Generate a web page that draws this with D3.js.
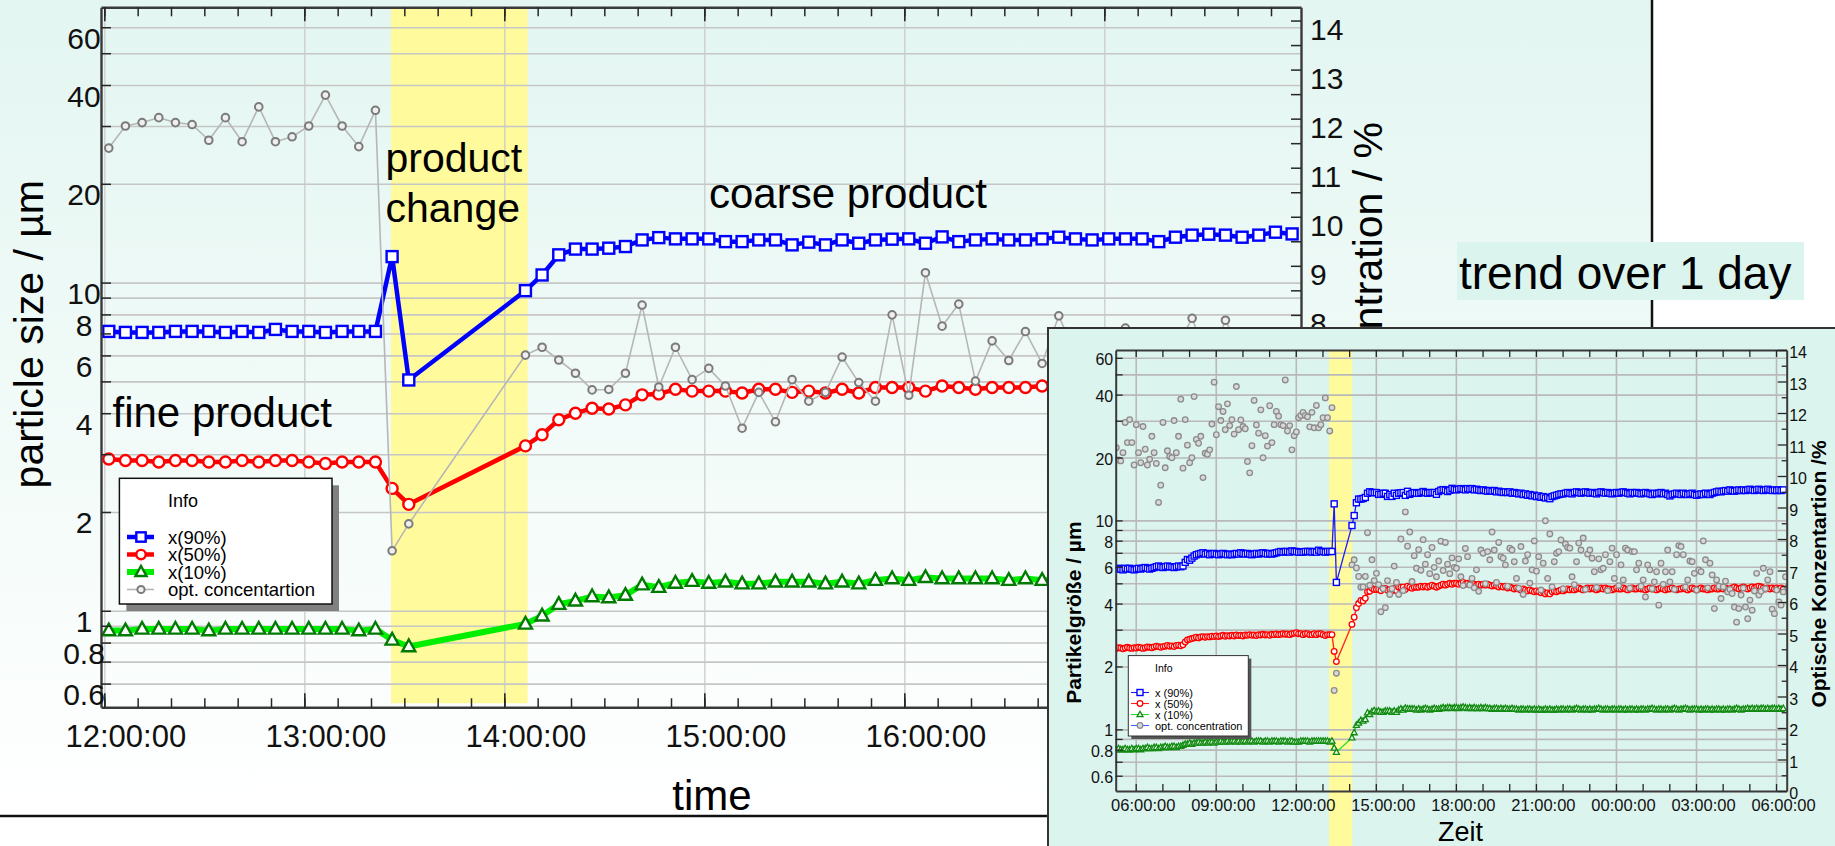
<!DOCTYPE html>
<html>
<head>
<meta charset="utf-8">
<script src="https://cdn.jsdelivr.net/npm/d3@7"></script>
<style>
  html, body { margin: 0; padding: 0; background: #fff; }
  svg { display: block; }
</style>
</head>
<body>
<svg id="chart" width="1835" height="846"></svg>
<script>
// ---------------- sampling / time frame ----------------
const sampleStepMin = 5;                          // instrument logs every 5 minutes
const mainStart = "2000-01-01 12:01:20";          // first sample of the 6 h trend
const mainTimeDomain = ["2000-01-01 11:59:00", "2000-01-01 17:59:00"];
const insetTimeDomain = ["2000-01-01 05:15:00", "2000-01-02 06:24:00"];
const changeWindow = ["2000-01-01 13:26:00", "2000-01-01 14:07:00"];
const changeWindowDay = ["2000-01-01 13:15:00", "2000-01-01 14:07:00"];

// ---------------- 6 h trend (12:01:20 .. 17:56:20, 5 min) ----------------
const mainX90 = [7.1, 7.05, 7.05, 7.05, 7.1, 7.1, 7.1, 7.05, 7.1, 7.05, 7.2, 7.1, 7.1, 7.05, 7.1, 7.1, 7.1,
  12.0, 5.05, null, null, null, null, null, null,
  9.45, 10.55, 12.15, 12.65, 12.65,
  12.73, 12.88, 13.49, 13.71, 13.59, 13.59, 13.59, 13.33, 13.33, 13.49, 13.49, 13.03, 13.28, 13.03,
  13.49, 13.18, 13.49, 13.56, 13.59, 13.18, 13.78, 13.33, 13.49, 13.59, 13.49, 13.49, 13.59, 13.75,
  13.59, 13.49, 13.59, 13.59, 13.59, 13.33, 13.75, 13.95, 14.04, 13.95, 13.75, 13.95, 14.24, 14.07];
const mainX50 = [2.9, 2.87, 2.87, 2.84, 2.87, 2.87, 2.84, 2.84, 2.87, 2.84, 2.87, 2.87, 2.84, 2.81, 2.84, 2.84, 2.84,
  2.36, 2.11, null, null, null, null, null, null,
  3.18, 3.44, 3.82, 4.0, 4.14,
  4.12, 4.24, 4.55, 4.58, 4.73, 4.67, 4.67, 4.67, 4.61, 4.73, 4.73, 4.63, 4.67, 4.61,
  4.73, 4.61, 4.79, 4.79, 4.79, 4.67, 4.84, 4.79, 4.73, 4.79, 4.79, 4.79, 4.84,
  4.8, 4.84, 4.79, 4.84, 4.9, 4.84, 4.79, 4.84, 4.9, 4.95, 4.9, 4.95, 5.0, 4.95, 5.0];
const mainX10 = [0.87, 0.87, 0.88, 0.88, 0.88, 0.88, 0.87, 0.88, 0.88, 0.88, 0.88, 0.88, 0.88, 0.88, 0.88, 0.87, 0.88,
  0.815, 0.778, null, null, null, null, null, null,
  0.912, 0.965, 1.047, 1.072, 1.105,
  1.097, 1.116, 1.201, 1.18, 1.215, 1.231, 1.215, 1.225, 1.209, 1.209, 1.225, 1.225, 1.225, 1.209,
  1.225, 1.209, 1.239, 1.254, 1.239, 1.264, 1.254, 1.254, 1.254, 1.254, 1.239, 1.254, 1.239,
  1.25, 1.26, 1.25, 1.24, 1.25, 1.26, 1.25, 1.25, 1.26, 1.27, 1.26, 1.27, 1.27, 1.26, 1.27];
const mainConc = [11.40, 11.85, 11.92, 12.02, 11.92, 11.88, 11.56, 12.02, 11.53, 12.24, 11.53, 11.63, 11.85, 12.48, 11.85, 11.43, 12.17,
  3.19, 3.74, null, null, null, null, null, null,
  7.18, 7.34, 7.08, 6.81, 6.47,
  6.48, 6.81, 8.20, 6.53, 7.34, 6.68, 6.91, 6.55, 5.69, 6.42, 5.82, 6.68, 6.24, 6.42,
  7.14, 6.62, 6.24, 8.00, 6.36, 8.86, 7.77, 8.22, 6.65, 7.47, 7.07, 7.66, 7.01, 7.98,
  7.2, 7.5, 6.9, 7.73, 7.1, 6.8, 7.3, 7.93, 7.0, 7.89, 7.2, 6.9, 7.4, 7.1];

// ---------------- one-day trend: samples before 12:01 and after 17:56 ----------------
const dayX90Before = [5.85, 5.9, 5.85, 5.8, 5.9, 5.85, 5.9, 5.85, 5.8, 5.85, 5.9, 5.85, 5.9, 5.95, 5.9, 5.85,
  5.9, 5.95, 6.0, 6.05, 6.0, 5.95, 6.0, 6.05, 6.0, 6.0, 5.95, 6.0, 6.05, 6.0, 6.05,
  6.3, 6.5, 6.45, 6.6, 6.75,
  6.85, 6.9, 6.95, 7.0, 6.9, 6.95, 6.85, 6.9, 6.95,
  6.9, 6.85, 6.9, 6.95, 6.9, 6.85, 6.9, 6.85, 6.9, 6.95, 6.9, 7.0, 6.95, 6.9, 6.95, 6.9, 6.85, 6.9,
  6.95, 6.9, 6.95, 7.0, 6.95, 6.9, 6.95, 6.9, 6.95, 7.0, 7.05, 7.1, 7.05, 7.1, 7.1, 7.05, 7.15, 7.1];
const dayX50Before = [2.44, 2.46, 2.45, 2.43, 2.45, 2.47, 2.45, 2.44, 2.46, 2.45, 2.47, 2.46, 2.44, 2.46, 2.48, 2.47,
  2.46, 2.48, 2.5, 2.49, 2.47, 2.49, 2.5, 2.52, 2.5, 2.51, 2.49, 2.52, 2.53, 2.51, 2.54,
  2.62, 2.68, 2.7, 2.72, 2.74,
  2.76, 2.74, 2.77, 2.78, 2.76, 2.78, 2.77, 2.79, 2.78,
  2.8, 2.78, 2.8, 2.82, 2.79, 2.81, 2.8, 2.82, 2.8, 2.83, 2.81, 2.82, 2.8, 2.83, 2.82, 2.84, 2.82, 2.83,
  2.81, 2.84, 2.83, 2.85, 2.83, 2.84, 2.82, 2.85, 2.84, 2.86, 2.84, 2.85, 2.87, 2.85, 2.86, 2.84, 2.87, 2.88];
const dayX10Before = [0.80, 0.81, 0.80, 0.80, 0.81, 0.80, 0.80, 0.81, 0.80, 0.81, 0.81, 0.80, 0.81, 0.81, 0.82, 0.81,
  0.81, 0.82, 0.82, 0.81, 0.82, 0.82, 0.83, 0.82, 0.82, 0.83, 0.83, 0.82, 0.83, 0.83, 0.84,
  0.85, 0.85, 0.86, 0.85, 0.86, 0.86, 0.87, 0.86, 0.86, 0.87, 0.86, 0.87, 0.87, 0.86,
  0.87, 0.87, 0.88, 0.87, 0.87, 0.88, 0.87, 0.88, 0.88, 0.87, 0.88, 0.87, 0.88, 0.88, 0.87, 0.88, 0.88, 0.87,
  0.88, 0.88, 0.88, 0.87, 0.88, 0.88, 0.87, 0.88, 0.88, 0.88, 0.87, 0.88, 0.88, 0.88, 0.87, 0.88, 0.88, 0.87];
const dayConcBefore = [10.9, 10.51, 10.48, 10.74, 11.70, 11.06, 11.79, 11.06, 10.35, 11.63, 10.74, 10.42, 11.57, 10.85,
  10.35, 10.53, 11.26, 10.74, 10.40, 9.16, 9.71, 11.70, 10.26, 10.80, 10.62, 10.58, 11.76, 10.74, 11.26,
  12.44, 10.25, 11.79, 10.98, 10.42, 10.58, 12.52, 11.16, 11.04, 11.26, 9.95, 10.72, 10.69, 10.83, 11.65,
  12.98, 11.31, 12.2, 11.76, 12.05, 11.47, 12.29, 11.6, 11.79, 11.33, 12.84, 11.47, 11.78, 11.57, 11.5,
  10.46, 10.10, 10.96, 12.4, 11.62, 11.36, 12.1, 10.58, 11.28, 10.95, 12.23, 11.06, 11.63, 12.05, 11.9,
  11.63, 11.6, 13.05, 11.43, 11.6, 10.83, 11.28];

const dayX90After = [14.0, 14.1, 14.2, 14.1, 14.0, 14.2, 14.1, 14.2, 14.0, 14.1, 14.0, 13.9,
  14.0, 13.9, 13.8, 13.9, 13.8, 13.9, 13.7, 13.8, 13.7, 13.6, 13.7, 13.6,
  13.7, 13.5, 13.6, 13.5, 13.4, 13.5, 13.3, 13.4, 13.2, 13.3, 13.1, 13.2,
  13.0, 13.1, 12.9, 13.0, 12.8, 12.9, 12.7, 13.0, 13.1, 13.2, 13.3, 13.4,
  13.4, 13.5, 13.6, 13.5, 13.4, 13.6, 13.7, 13.6, 13.5, 13.6, 13.7, 13.6,
  13.5, 13.6, 13.5, 13.4, 13.6, 13.7, 13.6, 13.5, 13.6, 13.5, 13.4, 13.5,
  13.6, 13.5, 13.6, 13.7, 13.6, 13.5, 13.4, 13.6, 13.5, 13.6, 13.5, 13.4,
  13.5, 13.6, 13.5, 13.4, 13.3, 13.5, 13.4, 13.5, 13.6, 13.4, 13.5, 13.3,
  13.1, 13.3, 13.4, 13.5, 13.4, 13.3, 13.5, 13.4, 13.3, 13.4, 13.5, 13.3,
  13.2, 13.3, 13.4, 13.3, 13.5, 13.4, 13.3, 13.5, 13.6, 13.7, 13.8, 13.7,
  13.8, 13.9, 13.8, 14.0, 13.9, 13.8, 13.9, 14.0, 13.9, 14.0, 13.9, 14.0,
  14.1, 14.0, 13.9, 14.0, 14.1, 14.0, 13.9, 14.0, 14.1, 14.0, 13.9, 14.0,
  13.9, 14.0, 13.9, 14.0];
const dayX50After = [5.0, 4.95, 5.0, 5.05, 4.95, 5.0, 4.95, 5.0, 4.95, 4.9, 4.95, 4.9,
  4.95, 4.9, 4.95, 4.9, 4.85, 4.9, 4.85, 4.8, 4.85, 4.8, 4.85, 4.75,
  4.8, 4.75, 4.7, 4.75, 4.7, 4.65, 4.7, 4.65, 4.6, 4.65, 4.6, 4.55,
  4.6, 4.55, 4.5, 4.55, 4.45, 4.5, 4.45, 4.55, 4.6, 4.55, 4.6, 4.65,
  4.6, 4.65, 4.7, 4.65, 4.7, 4.65, 4.7, 4.75, 4.7, 4.65, 4.7, 4.75,
  4.7, 4.75, 4.7, 4.65, 4.7, 4.75, 4.7, 4.75, 4.7, 4.7, 4.65, 4.7,
  4.75, 4.7, 4.7, 4.75, 4.7, 4.65, 4.7, 4.75, 4.7, 4.7, 4.75, 4.7,
  4.7, 4.65, 4.7, 4.75, 4.7, 4.7, 4.65, 4.7, 4.75, 4.7, 4.65, 4.7,
  4.7, 4.75, 4.7, 4.65, 4.7, 4.7, 4.75, 4.7, 4.65, 4.7, 4.75, 4.7,
  4.65, 4.7, 4.75, 4.7, 4.7, 4.65, 4.7, 4.7, 4.75, 4.7, 4.7, 4.75,
  4.7, 4.75, 4.7, 4.7, 4.75, 4.8, 4.75, 4.7, 4.75, 4.8, 4.75, 4.7,
  4.75, 4.8, 4.75, 4.8, 4.85, 4.8, 4.75, 4.7, 4.75, 4.7, 4.75, 4.7,
  4.75, 4.7, 4.75, 4.7];
const dayX10After = [1.27, 1.26, 1.27, 1.28, 1.27, 1.26, 1.27, 1.26, 1.27, 1.26, 1.26, 1.27,
  1.26, 1.27, 1.26, 1.26, 1.25, 1.26, 1.26, 1.25, 1.26, 1.25, 1.26, 1.25,
  1.25, 1.26, 1.25, 1.25, 1.24, 1.25, 1.25, 1.24, 1.25, 1.25, 1.24, 1.25,
  1.24, 1.25, 1.24, 1.24, 1.25, 1.24, 1.25, 1.24, 1.24, 1.25, 1.24, 1.25,
  1.25, 1.24, 1.25, 1.25, 1.24, 1.25, 1.26, 1.25, 1.24, 1.25, 1.25, 1.24,
  1.25, 1.24, 1.25, 1.25, 1.26, 1.25, 1.24, 1.25, 1.25, 1.24, 1.25, 1.25,
  1.24, 1.25, 1.25, 1.24, 1.25, 1.24, 1.25, 1.25, 1.24, 1.25, 1.24, 1.25,
  1.25, 1.24, 1.25, 1.25, 1.26, 1.25, 1.24, 1.25, 1.25, 1.24, 1.25, 1.25,
  1.24, 1.25, 1.26, 1.25, 1.24, 1.25, 1.25, 1.26, 1.25, 1.24, 1.25, 1.25,
  1.25, 1.24, 1.25, 1.24, 1.25, 1.25, 1.24, 1.25, 1.24, 1.25, 1.25, 1.24,
  1.25, 1.24, 1.25, 1.25, 1.24, 1.25, 1.26, 1.25, 1.24, 1.25, 1.25, 1.26,
  1.25, 1.26, 1.25, 1.26, 1.25, 1.26, 1.26, 1.25, 1.26, 1.25, 1.26, 1.26,
  1.25, 1.26, 1.25, 1.26];
const dayConcAfter = [7.07, 7.37, 6.80, 6.52, 7.70, 7.44, 6.54, 6.75, 6.45, 7.02, 6.34, 7.65, 7.55, 6.58, 7.60,
  7.34, 8.22, 7.65, 6.62, 7.89, 7.44, 7.39, 7.18, 6.5, 7.71, 7.65, 7.28, 6.75, 6.44, 7.76, 6.24, 7.30,
  7.50, 6.6, 7.02, 7.94, 6.98, 7.44, 6.38, 7.23, 8.58, 6.75, 8.16, 6.48, 7.28, 7.55, 7.60, 7.97, 6.42,
  7.84, 7.73, 7.71, 6.80, 6.55, 7.28, 7.87, 7.65, 8.03, 6.4, 7.52, 7.65, 7.39, 6.96, 6.46, 7.37, 7.02,
  7.07, 7.50, 6.36, 7.28, 7.71, 6.75, 7.50, 6.52, 7.18, 6.70, 7.71, 7.65, 6.44, 7.60, 7.60, 7.02, 7.23,
  6.5, 6.70, 6.16, 7.18, 7.02, 6.42, 6.64, 6.96, 5.90, 7.23, 6.56, 6.96, 7.65, 6.64, 6.96, 6.4, 7.50,
  7.79, 7.76, 7.50, 6.48, 6.70, 7.30, 7.28, 6.91, 6.38, 7.02, 6.96, 7.94, 7.34, 6.45, 7.23, 6.86, 5.79,
  6.70, 6.5, 6.11, 6.48, 6.66, 6.32, 6.4, 6.27, 5.84, 5.36, 5.79, 6.22, 6.44, 5.84, 5.47, 6.06, 5.74,
  6.35, 6.91, 6.22, 6.34, 7.07, 6.42, 6.70, 6.96, 5.77, 5.63, 6.38, 6.00, 5.90, 6.32, 6.80, 6.46, 7.28,
  6.54, 6.59, 5.79, 6.11];

// ---------------- axis ticks / labels ----------------
const sizeDomainMain = [0.508, 69];
const sizeDomainInset = [0.507, 65.4];
const concDomainMain = [0, 14.27];
const concDomainInset = [0, 14];
const sizeGridValues = [0.6, 0.7, 0.8, 0.9, 1, 2, 3, 4, 5, 6, 7, 8, 9, 10, 20, 30, 40, 50, 60];
const sizeTickLabels = [0.6, 0.8, 1, 2, 4, 6, 8, 10, 20, 40, 60];
const concTickLabels = [0, 1, 2, 3, 4, 5, 6, 7, 8, 9, 10, 11, 12, 13, 14];
const mainHourTicks = ["2000-01-01 12:00:00", "2000-01-01 13:00:00", "2000-01-01 14:00:00",
  "2000-01-01 15:00:00", "2000-01-01 16:00:00", "2000-01-01 17:00:00"];
const insetHourTicks = ["2000-01-01 06:00:00", "2000-01-01 09:00:00", "2000-01-01 12:00:00",
  "2000-01-01 15:00:00", "2000-01-01 18:00:00", "2000-01-01 21:00:00", "2000-01-02 00:00:00",
  "2000-01-02 03:00:00", "2000-01-02 06:00:00"];

// ---------------- helpers ----------------
const FONT = "'Liberation Sans', Arial, Helvetica, sans-serif";
const parse = d3.timeParse("%Y-%m-%d %H:%M:%S");
const fmt = d3.timeFormat("%H:%M:%S");
const t0 = parse(mainStart);
const mainTimes = mainX90.map((_, i) => d3.timeMinute.offset(t0, i * sampleStepMin));
const beforeTimes = n => d3.range(n).map(i => d3.timeMinute.offset(t0, -(n - i) * sampleStepMin));
const afterStart = d3.timeMinute.offset(t0, mainX90.length * sampleStepMin);
const afterTimes = n => d3.range(n).map(i => d3.timeMinute.offset(afterStart, i * sampleStepMin));

function toPoints(times, values) {
  return values.map((v, i) => ({ t: times[i], v })).filter(d => d.v != null);
}
function dayPoints(before, main, after) {
  return toPoints(beforeTimes(before.length), before)
    .concat(toPoints(mainTimes, main))
    .concat(toPoints(afterTimes(after.length), after));
}
function triPath(w) {
  const h = w * 0.9;
  return `M0,${-h * 0.6}L${w / 2},${h * 0.4}L${-w / 2},${h * 0.4}Z`;
}
function drawMarkers(g, pts, xs, ys, st) {
  const m = g.append("g");
  if (st.shape === "square") {
    m.selectAll("rect").data(pts).join("rect")
      .attr("x", d => xs(d.t) - st.size / 2).attr("y", d => ys(d.v) - st.size / 2)
      .attr("width", st.size).attr("height", st.size);
  } else if (st.shape === "circle") {
    m.selectAll("circle").data(pts).join("circle")
      .attr("cx", d => xs(d.t)).attr("cy", d => ys(d.v)).attr("r", st.size / 2);
  } else {
    m.selectAll("path").data(pts).join("path")
      .attr("d", triPath(st.size))
      .attr("transform", d => `translate(${xs(d.t)},${ys(d.v)})`);
  }
  m.attr("fill", st.fill).attr("stroke", st.stroke).attr("stroke-width", st.sw);
}
function drawLine(g, pts, xs, ys, color, width) {
  g.append("path").datum(pts)
    .attr("d", d3.line().x(d => xs(d.t)).y(d => ys(d.v)))
    .attr("fill", "none").attr("stroke", color).attr("stroke-width", width)
    .attr("stroke-linejoin", "round");
}
function styleAxis(g, fs, domainW, tickW) {
  g.attr("font-family", FONT).attr("font-size", fs);
  g.select(".domain").attr("stroke", "#3a3a3a").attr("stroke-width", domainW);
  g.selectAll(".tick line").attr("stroke", "#262626").attr("stroke-width", tickW);
  g.selectAll(".tick text").attr("fill", "#111");
}
const identity = d => d;

// ---------------- canvas ----------------
const svg = d3.select("#chart");
const defs = svg.append("defs");
const grad = defs.append("linearGradient").attr("id", "bgGrad")
  .attr("x1", 0).attr("y1", 0).attr("x2", 0).attr("y2", 1);
grad.append("stop").attr("offset", "0%").attr("stop-color", "#e3f6f1");
grad.append("stop").attr("offset", "100%").attr("stop-color", "#ffffff");

svg.append("rect").attr("width", 1835).attr("height", 846).attr("fill", "#fff");
svg.append("rect").attr("x", 0).attr("y", 0).attr("width", 1652).attr("height", 816).attr("fill", "url(#bgGrad)");

// ================= 6 h trend =================
const mp = { l: 101, r: 1301, t: 7.3, b: 707.3 };
const mx = d3.scaleTime().domain(mainTimeDomain.map(parse)).range([mp.l, mp.r]);
const my = d3.scaleLog().domain(sizeDomainMain).range([mp.b, mp.t]);
const mc = d3.scaleLinear().domain(concDomainMain).range([mp.b, mp.t]);
const gMain = svg.append("g");

// product change window
const cw = changeWindow.map(parse);
gMain.append("rect")
  .attr("x", mx(cw[0])).attr("y", mp.t)
  .attr("width", mx(cw[1]) - mx(cw[0])).attr("height", mp.b - 4 - mp.t)
  .attr("fill", "#fffa9c");

// grid
const hourDates = mainHourTicks.map(parse);
const gridH = gMain.append("g").attr("transform", `translate(${mp.l},0)`)
  .call(d3.axisLeft(my).tickValues(sizeGridValues).tickSize(-(mp.r - mp.l)).tickFormat(""));
gridH.select(".domain").remove();
gridH.selectAll("line").attr("stroke", "#c6c6c6").attr("stroke-width", 1.6);
const gridV = gMain.append("g").attr("transform", `translate(0,${mp.b})`)
  .call(d3.axisBottom(mx).tickValues(hourDates).tickSize(-(mp.b - mp.t)).tickFormat(""));
gridV.select(".domain").remove();
gridV.selectAll("line").attr("stroke", "#c8c8c8").attr("stroke-width", 1.2);

// series
defs.append("clipPath").attr("id", "clipMain").append("rect")
  .attr("x", mp.l).attr("y", mp.t).attr("width", mp.r - mp.l).attr("height", mp.b - mp.t);
const gS = gMain.append("g").attr("clip-path", "url(#clipMain)");

const mainStyles = {
  x90: { line: "#0000ff", lw: 4.5, shape: "square", size: 11, stroke: "#0000ff", fill: "#ffffff", sw: 2.4 },
  x50: { line: "#ff0000", lw: 4.5, shape: "circle", size: 11, stroke: "#ff0000", fill: "#ffffff", sw: 2.4 },
  x10: { line: "#00ee00", lw: 6, shape: "triangle", size: 13, stroke: "#007a00", fill: "#ffffff", sw: 2.4 },
  conc: { line: "#b6b6b6", lw: 1.6, shape: "circle", size: 7.6, stroke: "#7b7b7b", fill: "#efefef", sw: 2 }
};
const mainSeries = [
  { style: mainStyles.x90, pts: toPoints(mainTimes, mainX90), ys: my },
  { style: mainStyles.x50, pts: toPoints(mainTimes, mainX50), ys: my },
  { style: mainStyles.x10, pts: toPoints(mainTimes, mainX10), ys: my },
  { style: mainStyles.conc, pts: toPoints(mainTimes, mainConc), ys: mc }
];
mainSeries.forEach(s => {
  drawLine(gS, s.pts, mx, s.ys, s.style.line, s.style.lw);
  drawMarkers(gS, s.pts, mx, s.ys, s.style);
});

// axes
const tenMin = mx.ticks(d3.timeMinute.every(10));
const aBm = gMain.append("g").attr("transform", `translate(0,${mp.b})`)
  .call(d3.axisBottom(mx).tickValues(tenMin).tickSize(-9).tickSizeOuter(0).tickFormat(""));
styleAxis(aBm, 30, 2.4, 1.5);
const aB = gMain.append("g").attr("transform", `translate(0,${mp.b})`)
  .call(d3.axisBottom(mx).tickValues(hourDates).tickSize(-14).tickSizeOuter(0).tickFormat(fmt));
aB.select(".domain").remove();
styleAxis(aB, 31, 2.4, 1.6);
aB.selectAll(".tick text").attr("x", 21).attr("y", 39.5).attr("dy", null);

const aTm = gMain.append("g").attr("transform", `translate(0,${mp.t})`)
  .call(d3.axisTop(mx).tickValues(tenMin).tickSize(-9).tickSizeOuter(0).tickFormat(""));
styleAxis(aTm, 30, 2.4, 1.5);
const aT = gMain.append("g").attr("transform", `translate(0,${mp.t})`)
  .call(d3.axisTop(mx).tickValues(hourDates).tickSize(-14).tickSizeOuter(0).tickFormat(""));
aT.select(".domain").remove();
styleAxis(aT, 30, 2.4, 1.6);

const aL = gMain.append("g").attr("transform", `translate(${mp.l},0)`)
  .call(d3.axisLeft(my).tickValues(sizeGridValues).tickSize(-10).tickSizeOuter(0)
    .tickFormat(v => sizeTickLabels.includes(v) ? String(v) : ""));
styleAxis(aL, 30, 2.4, 1.5);
aL.selectAll(".tick text").attr("x", -17).attr("dy", null).attr("y", 21).attr("text-anchor", "middle");

const concTicks = d3.range(0, 14.01, 0.5);
const aR = gMain.append("g").attr("transform", `translate(${mp.r},0)`)
  .call(d3.axisRight(mc).tickValues(concTicks).tickSize(-10).tickSizeOuter(0)
    .tickFormat(v => concTickLabels.includes(v) ? String(v) : ""));
styleAxis(aR, 30, 2.4, 1.5);
aR.selectAll(".tick text").attr("x", 9).attr("dy", null).attr("y", 19).attr("text-anchor", "start");

// annotations
const ann = gMain.append("g").attr("font-family", FONT).attr("fill", "#000");
ann.append("text").attr("x", 385.5).attr("y", 172).attr("font-size", 41).text("product");
ann.append("text").attr("x", 385.5).attr("y", 222).attr("font-size", 41).text("change");
ann.append("text").attr("x", 709).attr("y", 208).attr("font-size", 42).text("coarse product");
ann.append("text").attr("x", 112.5).attr("y", 427).attr("font-size", 42).text("fine product");

// axis titles
ann.append("text").attr("x", 712).attr("y", 810).attr("font-size", 42)
  .attr("text-anchor", "middle").text("time");
ann.append("text").attr("transform", "translate(43,180) rotate(-90)").attr("font-size", 41)
  .attr("text-anchor", "end").text("particle size / µm");
ann.append("text").attr("transform", "translate(1382,122) rotate(-90)").attr("font-size", 41)
  .attr("text-anchor", "end").text("optical concentration / %");

// legend
const lg = gMain.append("g").attr("font-family", FONT);
lg.append("rect").attr("x", 126.4).attr("y", 485.3).attr("width", 212.6).attr("height", 125.7).attr("fill", "#808080");
lg.append("rect").attr("x", 119.4).attr("y", 478.3).attr("width", 212.6).attr("height", 125.7)
  .attr("fill", "#ffffff").attr("stroke", "#111").attr("stroke-width", 1.5);
lg.append("text").attr("x", 168).attr("y", 507).attr("font-size", 18).text("Info");
const mainLegend = [
  { label: "x(90%)", style: mainStyles.x90 },
  { label: "x(50%)", style: mainStyles.x50 },
  { label: "x(10%)", style: mainStyles.x10 },
  { label: "opt. concentartion", style: mainStyles.conc }
];
mainLegend.forEach((e, i) => {
  const cy = 537 + i * 17.5;
  lg.append("line").attr("x1", 127).attr("x2", 154).attr("y1", cy).attr("y2", cy)
    .attr("stroke", e.style.line).attr("stroke-width", e.style.lw);
  const ms = Object.assign({}, e.style, { size: e.style.size * (i === 3 ? 0.95 : 0.85) });
  drawMarkers(lg, [{ t: 141, v: cy }], identity, identity, ms);
  lg.append("text").attr("x", 168).attr("y", cy + 6.5).attr("font-size", 18.5).text(e.label);
});

// frame lines around the slide area
svg.append("line").attr("x1", 1652).attr("x2", 1652).attr("y1", 0).attr("y2", 330)
  .attr("stroke", "#111").attr("stroke-width", 2.5);
svg.append("line").attr("x1", 0).attr("x2", 1050).attr("y1", 816).attr("y2", 816)
  .attr("stroke", "#111").attr("stroke-width", 2.5);

// caption
svg.append("rect").attr("x", 1457).attr("y", 242).attr("width", 347).attr("height", 58).attr("fill", "#dcf4ee");
svg.append("text").attr("x", 1459).attr("y", 289).attr("font-family", FONT).attr("font-size", 46)
  .attr("fill", "#000").text("trend over 1 day");

// ================= one-day trend (inset) =================
const gIn = svg.append("g");
gIn.append("rect").attr("x", 1048).attr("y", 328).attr("width", 820).attr("height", 540)
  .attr("fill", "#dcf4ee").attr("stroke", "#333").attr("stroke-width", 2);

const ip = { l: 1115.7, r: 1786.7, t: 350, b: 791 };
const ix = d3.scaleTime().domain(insetTimeDomain.map(parse)).range([ip.l, ip.r]);
const iy = d3.scaleLog().domain(sizeDomainInset).range([ip.b, ip.t]);
const ic = d3.scaleLinear().domain(concDomainInset).range([ip.b, ip.t]);

const cwd = changeWindowDay.map(parse);
gIn.append("rect").attr("x", ix(cwd[0])).attr("y", ip.t)
  .attr("width", ix(cwd[1]) - ix(cwd[0])).attr("height", 846 - ip.t).attr("fill", "#fffa9c");

const insetHours = insetHourTicks.map(parse);
const igH = gIn.append("g").attr("transform", `translate(${ip.l},0)`)
  .call(d3.axisLeft(iy).tickValues(sizeGridValues).tickSize(-(ip.r - ip.l)).tickFormat(""));
igH.select(".domain").remove();
igH.selectAll("line").attr("stroke", "#b9b9b9").attr("stroke-width", 1.6);
const igV = gIn.append("g").attr("transform", `translate(0,${ip.b})`)
  .call(d3.axisBottom(ix).tickValues(insetHours).tickSize(-(ip.b - ip.t)).tickFormat(""));
igV.select(".domain").remove();
igV.selectAll("line").attr("stroke", "#b9b9b9").attr("stroke-width", 1.6);

defs.append("clipPath").attr("id", "clipInset").append("rect")
  .attr("x", ip.l).attr("y", ip.t).attr("width", ip.r - ip.l).attr("height", ip.b - ip.t);
const giS = gIn.append("g").attr("clip-path", "url(#clipInset)");

const insetStyles = {
  x90: { line: "#1a1aff", lw: 1.3, shape: "square", size: 6, stroke: "#0000ff", fill: "#ffffff", sw: 1.4 },
  x50: { line: "#ff2020", lw: 1.3, shape: "circle", size: 5.6, stroke: "#ff0000", fill: "#ffffff", sw: 1.3 },
  x10: { line: "#22dd22", lw: 1.3, shape: "triangle", size: 6, stroke: "#108a10", fill: "#e8f8e8", sw: 1.3 },
  conc: { line: "#4060ff", lw: 1, shape: "circle", size: 5.6, stroke: "#8c8c8c", fill: "#d8d8d8", sw: 1.3 }
};
const insetSeries = [
  { style: insetStyles.x90, pts: dayPoints(dayX90Before, mainX90, dayX90After), ys: iy, line: true },
  { style: insetStyles.x50, pts: dayPoints(dayX50Before, mainX50, dayX50After), ys: iy, line: true },
  { style: insetStyles.x10, pts: dayPoints(dayX10Before, mainX10, dayX10After), ys: iy, line: true },
  { style: insetStyles.conc, pts: dayPoints(dayConcBefore, mainConc, dayConcAfter), ys: ic, line: false }
];
insetSeries.forEach(s => {
  if (s.line) drawLine(giS, s.pts, ix, s.ys, s.style.line, s.style.lw);
  drawMarkers(giS, s.pts, ix, s.ys, s.style);
});

const hourly = ix.ticks(d3.timeHour.every(1));
const iaB = gIn.append("g").attr("transform", `translate(0,${ip.b})`)
  .call(d3.axisBottom(ix).tickValues(hourly).tickSize(-7).tickSizeOuter(0)
    .tickFormat(d => d.getHours() % 3 === 0 ? fmt(d) : ""));
styleAxis(iaB, 16.5, 2, 1.3);
iaB.selectAll(".tick text").attr("x", 7).attr("y", 20).attr("dy", null);
const iaT = gIn.append("g").attr("transform", `translate(0,${ip.t})`)
  .call(d3.axisTop(ix).tickValues(hourly).tickSize(-7).tickSizeOuter(0).tickFormat(""));
styleAxis(iaT, 16, 2, 1.3);
const iaL = gIn.append("g").attr("transform", `translate(${ip.l},0)`)
  .call(d3.axisLeft(iy).tickValues(sizeGridValues).tickSize(-7).tickSizeOuter(0)
    .tickFormat(v => sizeTickLabels.includes(v) ? String(v) : ""));
styleAxis(iaL, 16, 2, 1.3);
iaL.selectAll(".tick text").attr("x", -2.5).attr("dy", null).attr("y", 6.5).attr("text-anchor", "end");
const iaR = gIn.append("g").attr("transform", `translate(${ip.r},0)`)
  .call(d3.axisRight(ic).tickValues(concTicks).tickSize(-5).tickSizeOuter(0)
    .tickFormat(v => concTickLabels.includes(v) ? String(v) : ""));
styleAxis(iaR, 16, 2, 1.3);
iaR.selectAll(".tick").filter(v => Number.isInteger(v)).select("line").attr("x2", -9);
iaR.selectAll(".tick text").attr("x", 2.5).attr("dy", null).attr("y", 7.5).attr("text-anchor", "start");

// inset titles
const it = gIn.append("g").attr("font-family", FONT).attr("fill", "#000");
it.append("text").attr("x", 1460.5).attr("y", 841).attr("font-size", 27).attr("text-anchor", "middle").text("Zeit");
it.append("text").attr("transform", "translate(1081,612.6) rotate(-90)").attr("font-size", 21)
  .attr("font-weight", "bold").attr("text-anchor", "middle").text("Partikelgröße / µm");
it.append("text").attr("transform", "translate(1826,574) rotate(-90)").attr("font-size", 21)
  .attr("font-weight", "bold").attr("text-anchor", "middle").text("Optische Konzentartion /%");

// inset legend
const ilg = gIn.append("g").attr("font-family", FONT);
ilg.append("rect").attr("x", 1131.3).attr("y", 658.6).attr("width", 120).attr("height", 80.4).attr("fill", "#555");
ilg.append("rect").attr("x", 1128.3).attr("y", 655.6).attr("width", 120).attr("height", 80.4)
  .attr("fill", "#ffffff").attr("stroke", "#333").attr("stroke-width", 1);
ilg.append("text").attr("x", 1155).attr("y", 671.5).attr("font-size", 10.5).text("Info");
const insetLegend = [
  { label: "x (90%)", style: insetStyles.x90 },
  { label: "x (50%)", style: insetStyles.x50 },
  { label: "x (10%)", style: insetStyles.x10 },
  { label: "opt. concentration", style: insetStyles.conc }
];
insetLegend.forEach((e, i) => {
  const cy = 692.5 + i * 11;
  ilg.append("line").attr("x1", 1131).attr("x2", 1149).attr("y1", cy).attr("y2", cy)
    .attr("stroke", e.style.line).attr("stroke-width", 1.1);
  drawMarkers(ilg, [{ t: 1140, v: cy }], identity, identity, e.style);
  ilg.append("text").attr("x", 1155).attr("y", cy + 4).attr("font-size", 11).text(e.label);
});
</script>
</body>
</html>
